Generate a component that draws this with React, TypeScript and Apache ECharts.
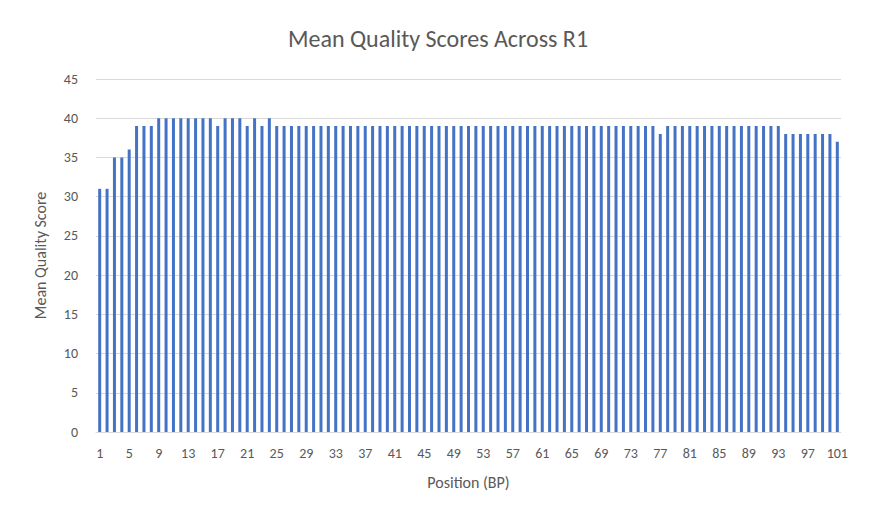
import React, { useEffect, useRef } from 'react';
import * as echarts from 'echarts';

const positions = Array.from({ length: 101 }, (_, i) => String(i + 1));

const scores = [
  31, 31, 35, 35, 36, 39, 39, 39, 40, 40,
  40, 40, 40, 40, 40, 40, 39, 40, 40, 40,
  39, 40, 39, 40, 39, 39, 39, 39, 39, 39,
  39, 39, 39, 39, 39, 39, 39, 39, 39, 39,
  39, 39, 39, 39, 39, 39, 39, 39, 39, 39,
  39, 39, 39, 39, 39, 39, 39, 39, 39, 39,
  39, 39, 39, 39, 39, 39, 39, 39, 39, 39,
  39, 39, 39, 39, 39, 39, 38, 39, 39, 39,
  39, 39, 39, 39, 39, 39, 39, 39, 39, 39,
  39, 39, 39, 38, 38, 38, 38, 38, 38, 38,
  37,
];

export default function App() {
  const chartRef = useRef<HTMLDivElement>(null);

  useEffect(() => {
    if (!chartRef.current) return;
    const chart = echarts.init(chartRef.current, null, { renderer: 'svg' });
    const font = 'Calibri, Carlito, "Open Sans", sans-serif';

    chart.setOption({
      animation: false,
      textStyle: { fontFamily: font },
      title: {
        text: 'Mean Quality Scores Across R1',
        left: 'center',
        top: 20,
        textStyle: { fontSize: 24, fontWeight: 'normal', color: '#595959', fontFamily: font },
      },
      grid: { left: 95, right: 34, top: 78, bottom: 94 },
      xAxis: {
        type: 'category',
        data: positions,
        name: 'Position (BP)',
        nameLocation: 'middle',
        nameGap: 42,
        nameTextStyle: { fontSize: 16, color: '#595959' },
        axisTick: { show: false },
        axisLine: { lineStyle: { color: '#d9d9d9' } },
        axisLabel: { interval: 3, color: '#595959', fontSize: 14, margin: 14 },
      },
      yAxis: {
        type: 'value',
        min: 0,
        max: 45,
        interval: 5,
        name: 'Mean Quality Score',
        nameLocation: 'middle',
        nameGap: 48,
        nameTextStyle: { fontSize: 16, color: '#595959' },
        axisLabel: { color: '#595959', fontSize: 14, margin: 18 },
        splitLine: { lineStyle: { color: '#d9d9d9' } },
      },
      series: [
        {
          type: 'bar',
          data: scores,
          barWidth: 3,
          itemStyle: { color: '#4472c4' },
        },
      ],
    });

    return () => chart.dispose();
  }, []);

  return (
    <div
      ref={chartRef}
      style={{ width: 874, height: 525, border: '1px solid #d9d9d9', background: '#fff', margin: -8 }}
    />
  );
}
